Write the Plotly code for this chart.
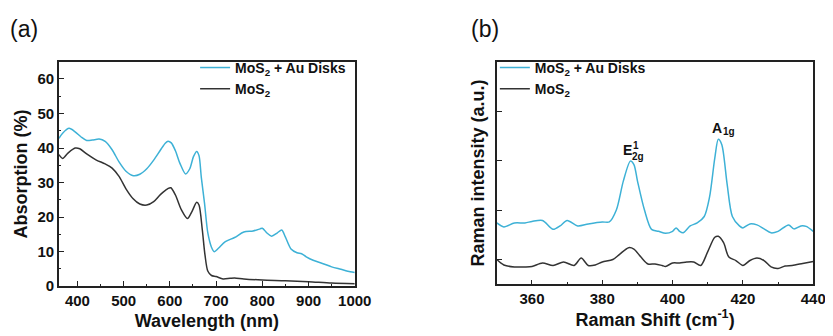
import plotly.graph_objects as go

# ---------------- Panel (a): absorption ----------------
wl_au = [360, 368, 382, 395, 408, 420, 432, 447, 460, 475, 490, 505, 521, 535, 550, 565, 580, 590, 596, 603, 612, 622, 634, 643, 651, 658, 663, 668, 675, 682, 690, 696, 705, 720, 740, 760, 780, 795, 800, 810, 820, 832, 842, 850, 862, 875, 885, 895, 910, 930, 950, 970, 990, 1000]
abs_au = [42.8, 44.3, 45.7, 44.7, 43.2, 42.2, 42.3, 42.6, 41.9, 39.5, 36.0, 33.3, 32.0, 32.4, 34.0, 36.5, 39.5, 41.4, 42.0, 41.5, 39.2, 35.5, 32.5, 34.0, 37.5, 39.0, 37.8, 31.5, 24.0, 15.5, 11.3, 10.0, 11.0, 12.9, 14.1, 15.7, 16.0, 16.6, 16.8, 15.4, 14.5, 15.4, 16.3, 14.2, 10.8, 9.7, 9.4, 8.5, 7.5, 6.6, 5.6, 4.9, 4.2, 4.0]

wl_mos2 = [360, 368, 380, 395, 405, 420, 440, 460, 475, 490, 505, 520, 535, 550, 565, 580, 595, 602, 612, 625, 638, 648, 658, 663, 670, 676, 682, 690, 700, 715, 730, 740, 760, 800, 850, 900, 950, 1000]
abs_mos2 = [38.1, 37.0, 38.6, 40.0, 39.8, 38.3, 36.6, 35.4, 34.2, 31.8, 28.2, 25.4, 23.8, 23.5, 24.5, 26.6, 28.2, 28.5, 26.4, 22.1, 19.6, 21.7, 24.3, 23.5, 16.5, 9.0, 4.4, 3.1, 2.8, 2.1, 2.3, 2.4, 2.1, 1.8, 1.6, 1.3, 0.9, 0.7]

# ---------------- Panel (b): Raman ----------------
rs_au = [350, 352, 355, 358, 360, 363, 366, 368, 370, 373, 376, 380, 382, 384, 386, 388, 389, 390, 392, 394, 396, 398, 400, 401, 402, 403, 405, 407, 409, 410.5, 412, 413, 414, 415.5, 417, 419, 420, 422, 424, 426, 428, 430, 433, 434.5, 436.5, 438, 440]
ri_au = [1.74, 1.66, 1.74, 1.74, 1.77, 1.79, 1.61, 1.68, 1.79, 1.68, 1.72, 1.76, 1.76, 2.0, 2.59, 2.99, 2.92, 2.59, 2.0, 1.61, 1.57, 1.53, 1.57, 1.64, 1.57, 1.54, 1.68, 1.74, 1.87, 2.26, 3.05, 3.43, 3.32, 2.53, 1.87, 1.68, 1.64, 1.72, 1.70, 1.62, 1.54, 1.57, 1.70, 1.62, 1.68, 1.67, 1.57]

rs_mos2 = [350, 352, 355, 358, 360, 363, 366, 369, 372, 374, 376, 378, 380, 383, 385, 387.5, 389, 391, 393, 395, 397, 398, 400, 402, 404, 406, 408, 410, 412, 413, 414.5, 416, 418, 420, 422, 424, 426, 428, 430, 432, 434, 437, 440]
ri_mos2 = [1.0, 0.89, 0.85, 0.85, 0.86, 0.93, 0.88, 0.95, 0.88, 1.03, 0.88, 0.89, 0.95, 1.0, 1.11, 1.24, 1.21, 1.05, 0.91, 0.91, 0.88, 0.86, 0.93, 0.93, 0.95, 0.95, 0.88, 1.16, 1.45, 1.47, 1.34, 1.05, 0.98, 0.88, 0.98, 1.03, 0.98, 0.85, 0.82, 0.87, 0.88, 0.92, 0.96]

# peak label positions (Raman shift, intensity)
e2g_pos = (388.4, 3.22)
a1g_pos = (414.4, 3.66)

BLUE = "#3DB1D6"
DARK = "#333333"
FONT = "Liberation Sans, Arial, sans-serif"

fig = go.Figure()
fig.add_trace(go.Scatter(x=wl_au, y=abs_au, mode="lines", name="MoS<sub>2</sub> + Au Disks",
                         line=dict(color=BLUE, width=1.5, shape="spline", smoothing=0.8),
                         xaxis="x", yaxis="y", legend="legend"))
fig.add_trace(go.Scatter(x=wl_mos2, y=abs_mos2, mode="lines", name="MoS<sub>2</sub>",
                         line=dict(color=DARK, width=1.5, shape="spline", smoothing=0.8),
                         xaxis="x", yaxis="y", legend="legend"))
fig.add_trace(go.Scatter(x=rs_au, y=ri_au, mode="lines", name="MoS<sub>2</sub> + Au Disks",
                         line=dict(color=BLUE, width=1.5, shape="spline", smoothing=0.8),
                         xaxis="x2", yaxis="y2", legend="legend2"))
fig.add_trace(go.Scatter(x=rs_mos2, y=ri_mos2, mode="lines", name="MoS<sub>2</sub>",
                         line=dict(color=DARK, width=1.5, shape="spline", smoothing=0.8),
                         xaxis="x2", yaxis="y2", legend="legend2"))

W, H = 833, 336
def px_x(p): return p / W
def px_y(p): return 1 - p / H

axis_common = dict(showline=True, linecolor="#222", linewidth=1.5, mirror=True,
                   ticks="inside", ticklen=5, tickwidth=1.2, tickcolor="#222",
                   showgrid=False, zeroline=False,
                   tickfont=dict(family=FONT, size=15, color="#111", weight="bold"))
TITLE_FONT = dict(family=FONT, size=18, color="#111", weight="bold")
LEG_FONT = dict(family=FONT, size=14, color="#111", weight="bold")

fig.update_layout(
    width=W, height=H, margin=dict(l=0, r=0, t=0, b=0),
    paper_bgcolor="white", plot_bgcolor="white",
    font=dict(family=FONT, color="#111"),
    xaxis=dict(domain=[px_x(52), px_x(354)], range=[360, 1000], tickvals=[400, 500, 600, 700, 800, 900, 1000],
               minor=dict(ticks="inside", ticklen=2.5, dtick=50, tick0=0, tickcolor="#222"),
               title=dict(text="Wavelength (nm)", font=TITLE_FONT, standoff=6),
               anchor="y", **axis_common),
    yaxis=dict(domain=[px_y(285), px_y(55)], range=[0, 65], tickvals=[0, 10, 20, 30, 40, 50, 60],
               minor=dict(ticks="inside", ticklen=2.5, dtick=5, tick0=0, tickcolor="#222"),
               title=dict(text="Absorption (%)", font=TITLE_FONT, standoff=5),
               anchor="x", **axis_common),
    xaxis2=dict(domain=[px_x(499), px_x(822)], range=[350, 440], tickvals=[360, 380, 400, 420, 440],
                minor=dict(ticks="inside", ticklen=2.5, dtick=10, tick0=0, tickcolor="#222"),
                title=dict(text="Raman Shift (cm<sup>-1</sup>)", font=TITLE_FONT, standoff=6),
                anchor="y2", **axis_common),
    yaxis2=dict(domain=[px_y(283), px_y(55)], range=[0.5, 5.0], tickvals=[1, 2, 3, 4], showticklabels=False,
                title=dict(text="Raman intensity (a.u.)", font=TITLE_FONT, standoff=6),
                anchor="x2", **axis_common),
    legend=dict(x=px_x(191), y=px_y(45), xanchor="left", yanchor="top", bgcolor="rgba(0,0,0,0)",
                font=LEG_FONT, itemwidth=30, tracegroupgap=0),
    legend2=dict(x=px_x(497), y=px_y(45), xanchor="left", yanchor="top", bgcolor="rgba(0,0,0,0)",
                 font=LEG_FONT, itemwidth=30, tracegroupgap=0),
    showlegend=True,
)

annos = [
    dict(text="(a)", x=px_x(0), y=px_y(22), xanchor="left", yanchor="middle",
         font=dict(family=FONT, size=23, color="#111")),
    dict(text="(b)", x=px_x(471), y=px_y(22), xanchor="left", yanchor="middle",
         font=dict(family=FONT, size=23, color="#111")),
]
for a in annos:
    a.update(xref="paper", yref="paper", showarrow=False)
    fig.add_annotation(**a)

LBL = dict(family=FONT, size=14, color="#111", weight="bold")
SML = dict(family=FONT, size=10, color="#111", weight="bold")
# E^1_2g
fig.add_annotation(x=e2g_pos[0], y=e2g_pos[1], xref="x2", yref="y2", text="E", showarrow=False,
                   xanchor="right", yanchor="middle", borderpad=0, xshift=1, font=LBL)
fig.add_annotation(x=e2g_pos[0], y=e2g_pos[1], xref="x2", yref="y2", text="1", showarrow=False,
                   xanchor="left", yanchor="middle", borderpad=0, yshift=4, xshift=0, font=SML)
fig.add_annotation(x=e2g_pos[0], y=e2g_pos[1], xref="x2", yref="y2", text="2g", showarrow=False,
                   xanchor="left", yanchor="middle", borderpad=0, yshift=-7, xshift=-1, font=SML)
# A_1g
fig.add_annotation(x=a1g_pos[0], y=a1g_pos[1], xref="x2", yref="y2", text="A", showarrow=False,
                   xanchor="right", yanchor="middle", borderpad=0, font=LBL)
fig.add_annotation(x=a1g_pos[0], y=a1g_pos[1], xref="x2", yref="y2", text="1g", showarrow=False,
                   xanchor="left", yanchor="middle", borderpad=0, yshift=-4, xshift=-1, font=SML)

fig.write_html("out.html")
